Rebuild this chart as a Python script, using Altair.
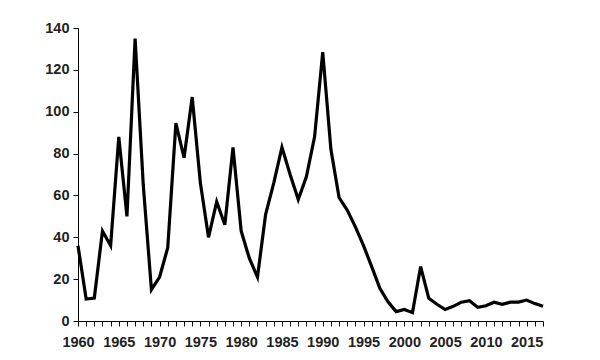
import altair as alt
import pandas as pd

years = list(range(1960, 2018))
values = [36, 10.5, 11, 43, 36, 88, 50, 135, 65, 15,
          21, 35, 94.5, 78, 107, 66, 40, 57, 46, 83,
          43, 30, 21, 51, 66, 83, 70, 58, 69, 88,
          128.5, 82, 59, 53, 45, 36, 26, 15.6, 9.2, 4.5,
          5.5, 4, 26, 10.8, 8, 5.5, 7, 9, 9.7, 6.5,
          7.3, 9, 8, 9, 9, 10, 8.3, 7]
y_ticks = [0, 20, 40, 60, 80, 100, 120, 140]

df = pd.DataFrame({"year": years, "value": values})

font = "Liberation Sans"

chart = alt.Chart(df).mark_line(color="black", strokeWidth=3.2, strokeJoin="miter").encode(
    x=alt.X("year:Q",
            scale=alt.Scale(domain=[1960, 2017], nice=False, zero=False),
            axis=alt.Axis(values=years, format="d",
                          labelExpr="datum.value % 5 == 0 ? datum.label : ''",
                          labelOverlap=False, grid=False, title=None,
                          tickSize=5, labelPadding=9,
                          labelFont=font, labelFontSize=14.5, labelFontWeight="bold",
                          labelColor="#222222", domainColor="black", tickColor="black",
                          labelFlush=False)),
    y=alt.Y("value:Q",
            scale=alt.Scale(domain=[0, 140], nice=False),
            axis=alt.Axis(values=y_ticks, grid=False, title=None,
                          tickSize=5, labelPadding=4,
                          labelFont=font, labelFontSize=14.5, labelFontWeight="bold",
                          labelColor="#222222", domainColor="black", tickColor="black")),
).properties(
    width=465, height=293,
    padding={"left": 78, "top": 28, "right": 57, "bottom": 39},
    autosize=alt.AutoSizeParams(type="none"),
    background="white",
).configure_view(stroke=None)

chart.save("out.html", embed_options={"renderer": "svg", "actions": False})
